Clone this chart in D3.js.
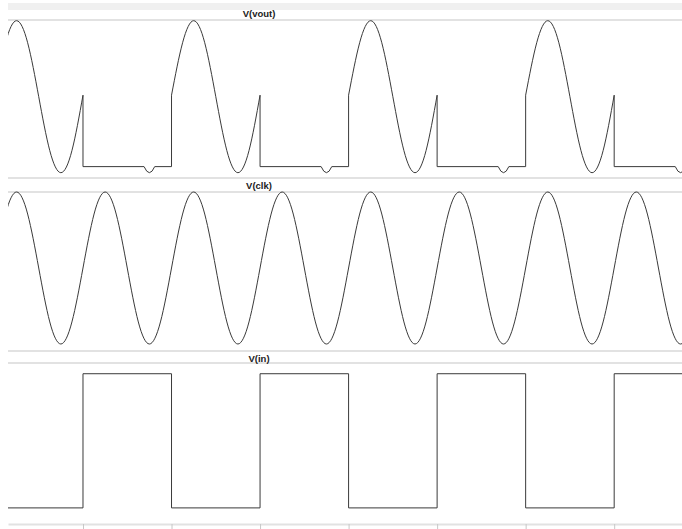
<!DOCTYPE html>
<html>
<head>
<meta charset="utf-8">
<script src="https://cdn.jsdelivr.net/npm/d3@7"></script>
<style>
    body { margin: 0; background: #fff; }
    svg { display: block; }
</style>
</head>
<body>
<svg id="chart" width="682" height="529"></svg>
<script>
// time axis: one tick per clk period (no labels shown)
var xTicks = [1, 2, 3, 4, 5, 6, 7];
var timeRange = [0.153, 7.766];

// V(clk), sampled every 1/8 period from t = 0
var clkStep = 0.125;
var clkV = [
    0, 0.71, 1, 0.71, 0, -0.71, -1, -0.71,
    0, 0.71, 1, 0.71, 0, -0.71, -1, -0.71,
    0, 0.71, 1, 0.71, 0, -0.71, -1, -0.71,
    0, 0.71, 1, 0.71, 0, -0.71, -1, -0.71,
    0, 0.71, 1, 0.71, 0, -0.71, -1, -0.71,
    0, 0.71, 1, 0.71, 0, -0.71, -1, -0.71,
    0, 0.71, 1, 0.71, 0, -0.71, -1, -0.71,
    0, 0.71, 1, 0.71, 0, -0.71, -1, -0.71,
    0
];

// V(in), square wave
var inT = [0, 1, 1, 2, 2, 3, 3, 4, 4, 5, 5, 6, 6, 7, 7, 8];
var inV = [0, 0, 1, 1, 0, 0, 1, 1, 0, 0, 1, 1, 0, 0, 1, 1];

// V(vout): follows clk while in is low, clamped while in is high
var voutFollow = [
    [[0, 0], [0.125, 0.71], [0.25, 1], [0.375, 0.71], [0.5, 0], [0.625, -0.71], [0.75, -1], [0.875, -0.71], [1, 0.02]],
    [[2, 0.02], [2.125, 0.71], [2.25, 1], [2.375, 0.71], [2.5, 0], [2.625, -0.71], [2.75, -1], [2.875, -0.71], [3, 0.02]],
    [[4, 0.02], [4.125, 0.71], [4.25, 1], [4.375, 0.71], [4.5, 0], [4.625, -0.71], [4.75, -1], [4.875, -0.71], [5, 0.02]],
    [[6, 0.02], [6.125, 0.71], [6.25, 1], [6.375, 0.71], [6.5, 0], [6.625, -0.71], [6.75, -1], [6.875, -0.71], [7, 0.02]]
];
var voutClamp = [
    [[1, 0.02], [1, -0.92], [1.69, -0.92], [1.72, -0.98], [1.75, -1], [1.78, -0.98], [1.81, -0.92], [2, -0.92], [2, 0.02]],
    [[3, 0.02], [3, -0.92], [3.69, -0.92], [3.72, -0.98], [3.75, -1], [3.78, -0.98], [3.81, -0.92], [4, -0.92], [4, 0.02]],
    [[5, 0.02], [5, -0.92], [5.69, -0.92], [5.72, -0.98], [5.75, -1], [5.78, -0.98], [5.81, -0.92], [6, -0.92], [6, 0.02]],
    [[7, 0.02], [7, -0.92], [7.69, -0.92], [7.72, -0.98], [7.75, -1], [7.78, -0.98], [7.81, -0.92], [8, -0.92]]
];

var style = {
    left: 8,
    right: 682,
    titleX: 259,
    trace: "#3a3a3a",
    rule: "#e2e2e2",
    band: "#f0f0f0",
    font: "'Liberation Sans', Arial, sans-serif"
};

var svg = d3.select("#chart");

var x = d3.scaleLinear().domain(timeRange).range([style.left, style.right]);

var panes = [
    { title: "V(vout)", top: 20, bottom: 178, titleY: 16.5, y: d3.scaleLinear().domain([-1, 1]).range([172.7, 20.7]) },
    { title: "V(clk)", top: 192, bottom: 351, titleY: 188.5, y: d3.scaleLinear().domain([-1, 1]).range([344, 192]) },
    { title: "V(in)", top: 363, bottom: 524, titleY: 361.5, y: d3.scaleLinear().domain([-0.12, 1.08]).range([524, 363]) }
];

svg.append("defs")
    .append("clipPath")
    .attr("id", "plotClip")
    .append("rect")
    .attr("x", style.left)
    .attr("y", 0)
    .attr("width", style.right - style.left)
    .attr("height", 529);

// top band
svg.append("rect")
    .attr("x", style.left)
    .attr("y", 3)
    .attr("width", style.right - style.left)
    .attr("height", 7)
    .attr("fill", style.band);

panes.forEach(function(p, i) {
    svg.append("line")
        .attr("x1", style.left)
        .attr("x2", style.right)
        .attr("y1", p.top)
        .attr("y2", p.top)
        .attr("stroke", style.rule)
        .attr("stroke-width", 2);

    if (i < panes.length - 1) {
        svg.append("line")
            .attr("x1", style.left)
            .attr("x2", style.right)
            .attr("y1", p.bottom)
            .attr("y2", p.bottom)
            .attr("stroke", style.rule)
            .attr("stroke-width", 2);
    }

    svg.append("text")
        .attr("x", style.titleX)
        .attr("y", p.titleY)
        .attr("text-anchor", "middle")
        .attr("font-family", style.font)
        .attr("font-weight", "bold")
        .attr("font-size", "9.5px")
        .attr("fill", "#222")
        .text(p.title);
});

// time axis at the bottom
var axis = svg.append("g")
    .attr("transform", "translate(0," + panes[2].bottom + ")")
    .call(d3.axisBottom(x).tickValues(xTicks).tickSize(5).tickSizeOuter(0).tickFormat(""));

axis.select(".domain")
    .attr("stroke", style.rule)
    .attr("stroke-width", 2);
axis.selectAll(".tick line")
    .attr("stroke", "#c8c8c8");

var traces = svg.append("g")
    .attr("clip-path", "url(#plotClip)")
    .attr("fill", "none")
    .attr("stroke", style.trace)
    .attr("stroke-width", 1);

// V(vout)
var voutCurve = d3.line()
    .x(function(d) { return x(d[0]); })
    .y(function(d) { return panes[0].y(d[1]); })
    .curve(d3.curveNatural);
var voutFlat = d3.line()
    .x(function(d) { return x(d[0]); })
    .y(function(d) { return panes[0].y(d[1]); });

traces.selectAll(".vout-follow")
    .data(voutFollow)
    .enter()
    .append("path")
    .attr("class", "vout-follow")
    .attr("d", voutCurve);

traces.selectAll(".vout-clamp")
    .data(voutClamp)
    .enter()
    .append("path")
    .attr("class", "vout-clamp")
    .attr("d", voutFlat);

// V(clk)
traces.append("path")
    .datum(clkV)
    .attr("d", d3.line()
        .x(function(d, i) { return x(i * clkStep); })
        .y(function(d) { return panes[1].y(d); })
        .curve(d3.curveNatural));

// V(in)
traces.append("path")
    .datum(inT)
    .attr("d", d3.line()
        .x(function(d) { return x(d); })
        .y(function(d, i) { return panes[2].y(inV[i]); }));
</script>
</body>
</html>
